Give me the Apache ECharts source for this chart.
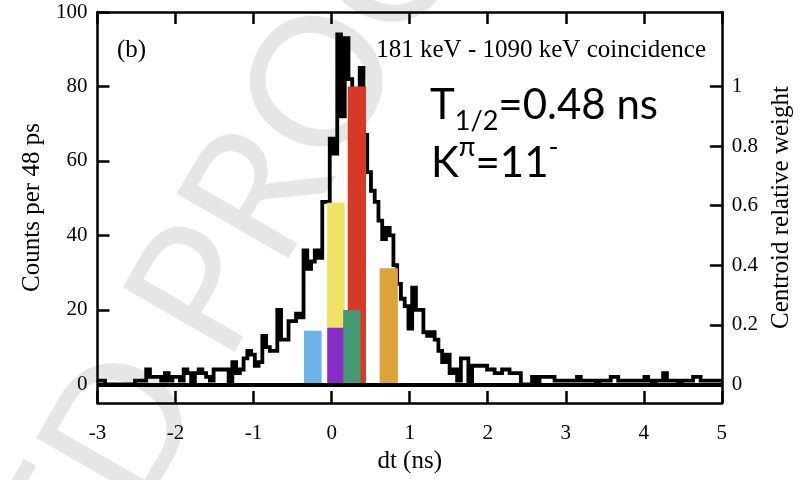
<!DOCTYPE html>
<html>
<head>
<meta charset="utf-8">
<script src="https://cdn.jsdelivr.net/npm/echarts@6/dist/echarts.min.js"></script>
<style>
  html, body { margin: 0; padding: 0; background: #ffffff; }
  #chart { width: 802px; height: 480px; }
</style>
</head>
<body>
<div id="chart"></div>
<script>
// Time-difference histogram, 48 ps bins starting at dt = -3 ns
const binStart = -3.0;
const binWidth = 0.048;
const counts = [
  1, 1, 0, 0, 0, 0, 0, 0, 0, 0,
  1, 1, 1, 4, 2, 2, 2, 1, 3, 1,
  2, 2, 1, 4, 3, 0, 3, 4, 3, 2,
  1, 4, 4, 4, 4, 0, 6, 3, 4, 7,
  9, 8, 5, 6, 13, 10, 9, 9, 20, 12,
  12, 17, 17, 19, 18, 36, 31, 33, 36, 34,
  49, 49, 66, 62, 94, 72, 93, 82, 70, 75,
  85, 67, 57, 52, 49, 44, 39, 42, 40, 32,
  27, 23, 21, 15, 26, 20, 20, 14, 13, 14,
  12, 9, 6, 8, 3, 4, 1, 7, 7, 0,
  5, 5, 5, 5, 4, 4, 3, 3, 4, 4,
  3, 3, 3, 0, 0, 0, 2, 0, 2, 2,
  2, 2, 1, 1, 1, 1, 1, 1, 2, 1,
  1, 1, 1, 0, 1, 1, 1, 2, 2, 1,
  1, 1, 1, 1, 1, 1, 2, 1, 0, 1,
  1, 3, 1, 1, 1, 0, 1, 1, 1, 2,
  2, 1, 1, 1, 1, 1, 1
];

// Axis ticks
const dtTicks = [-3, -2, -1, 0, 1, 2, 3, 4, 5];
const countTicks = [0, 20, 40, 60, 80, 100];
const weightTicks = [0, 0.2, 0.4, 0.6, 0.8, 1];

// Centroid components: position (ns), width (ns), relative weight, drawn in this order
const centroidPos = [-0.241, 0.055, 0.055, 0.323, 0.259, 0.732];
const centroidWidth = [0.226, 0.225, 0.222, 0.234, 0.222, 0.234];
const centroidWeight = [0.18, 0.61, 0.19, 1.0, 0.25, 0.39];
const centroidColor = ['#6cb4e4', '#f0e262', '#8a2bc9', '#d63a26', '#429a72', '#dea23a'];

const serif = '"Liberation Serif", "Times New Roman", serif';
const noteColor = '#4a6a92';
const markColor = '#e6e6e6';
const markFont = '180px Lato, "Open Sans", sans-serif';

const stepData = counts.map((c, i) => [binStart + i * binWidth, c]);
stepData.push([binStart + counts.length * binWidth, counts[counts.length - 1]]);

const centroidData = centroidPos.map((p, i) => [p, centroidWidth[i], centroidWeight[i]]);

const chart = echarts.init(document.getElementById('chart'), null, { renderer: 'canvas' });

const axisLine = { show: true, onZero: false, lineStyle: { color: '#000', width: 2.5 } };
const tickStyle = { color: '#000', width: 2.5 };

chart.setOption({
  animation: false,
  backgroundColor: '#ffffff',
  grid: { left: 97.5, right: 79.5, top: 12, bottom: 77, containLabel: false },
  xAxis: [
    {
      type: 'value', position: 'bottom', min: dtTicks[0], max: dtTicks[dtTicks.length - 1], interval: 1,
      axisLine: axisLine,
      axisTick: { show: true, inside: true, length: 12, lineStyle: tickStyle },
      axisLabel: { show: true, color: '#000', fontFamily: serif, fontSize: 21, margin: 20 },
      splitLine: { show: false },
      name: 'dt (ns)', nameLocation: 'middle', nameGap: 46,
      nameTextStyle: { color: '#000', fontFamily: serif, fontSize: 25 }
    },
    {
      type: 'value', position: 'top', min: dtTicks[0], max: dtTicks[dtTicks.length - 1], interval: 1,
      axisLine: axisLine,
      axisTick: { show: true, inside: true, length: 12, lineStyle: tickStyle },
      axisLabel: { show: false },
      splitLine: { show: false }
    }
  ],
  yAxis: [
    {
      type: 'value', position: 'left', min: -5, max: 100,
      axisLine: axisLine,
      axisTick: { show: true, inside: true, length: 12, lineStyle: tickStyle, customValues: countTicks },
      axisLabel: { show: true, color: '#000', fontFamily: serif, fontSize: 21, margin: 10, customValues: countTicks },
      splitLine: { show: false },
      name: 'Counts per 48 ps', nameLocation: 'middle', nameGap: 52, nameRotate: 90,
      nameTextStyle: { color: '#000', fontFamily: serif, fontSize: 25 }
    },
    {
      type: 'value', position: 'right', min: -0.0625, max: 1.25,
      axisLine: axisLine,
      axisTick: { show: true, inside: true, length: 12, lineStyle: tickStyle, customValues: weightTicks },
      axisLabel: { show: true, color: '#000', fontFamily: serif, fontSize: 21, margin: 10, customValues: weightTicks },
      splitLine: { show: false },
      name: 'Centroid relative weight', nameLocation: 'middle', nameGap: 47, nameRotate: 90,
      nameTextStyle: { color: '#000', fontFamily: serif, fontSize: 25 }
    }
  ],
  series: [
    {
      name: 'counts',
      type: 'line',
      xAxisIndex: 0, yAxisIndex: 0,
      step: 'end',
      data: stepData,
      symbol: 'none',
      clip: true,
      z: 2,
      lineStyle: { color: '#000', width: 3.8, join: 'miter', cap: 'butt' },
      markLine: {
        silent: true,
        symbol: ['none', 'none'],
        label: { show: false },
        lineStyle: { color: '#000', width: 3.8, type: 'solid' },
        data: [{ yAxis: 0 }]
      }
    },
    {
      name: 'centroids',
      type: 'custom',
      xAxisIndex: 0, yAxisIndex: 1,
      z: 3,
      data: centroidData,
      renderItem: function (params, api) {
        const c = api.value(0), w = api.value(1), h = api.value(2);
        const p0 = api.coord([c - w / 2, h]);
        const p1 = api.coord([c + w / 2, 0]);
        return {
          type: 'rect',
          shape: { x: p0[0], y: p0[1], width: p1[0] - p0[0], height: p1[1] - p0[1] },
          style: { fill: centroidColor[params.dataIndex] }
        };
      }
    }
  ],
  graphic: [
    {
      type: 'text', z: -10, x: 176, y: 337, rotation: Math.PI / 3, silent: true,
      style: { text: 'PROOF', fill: markColor, font: markFont, textAlign: 'left', textVerticalAlign: 'middle' }
    },
    {
      type: 'text', z: -10, x: 158, y: 369, rotation: Math.PI / 3, silent: true,
      style: { text: 'ACCEPTED', fill: markColor, font: markFont, textAlign: 'right', textVerticalAlign: 'middle' }
    },
    {
      type: 'text', z: 10, x: 117, y: 50,
      style: { text: '(b)', fill: '#000', font: '25px ' + serif, textAlign: 'left', textVerticalAlign: 'middle' }
    },
    {
      type: 'text', z: 10, x: 706, y: 50,
      style: { text: '181 keV - 1090 keV coincidence', fill: '#000', font: '25px ' + serif, textAlign: 'right', textVerticalAlign: 'middle' }
    },
    {
      type: 'text', z: 10, x: 430, y: 84,
      style: {
        text: '{m|T}{s|1/2}{m|=0.48 ns}',
        textAlign: 'left', textVerticalAlign: 'top',
        rich: {
          m: { fontFamily: 'Lato', fontSize: 42, lineHeight: 42, color: noteColor, verticalAlign: 'top' },
          s: { fontFamily: 'Lato', fontSize: 27, lineHeight: 27, color: noteColor, verticalAlign: 'top', padding: [24, 0, 0, 0] }
        }
      }
    },
    {
      type: 'text', z: 10, x: 431, y: 134,
      style: {
        text: '{m|K}{p|π}{m|=11}{p|-}',
        textAlign: 'left', textVerticalAlign: 'top',
        rich: {
          m: { fontFamily: 'Lato', fontSize: 42, lineHeight: 42, color: noteColor, verticalAlign: 'top', padding: [8, 0, 0, 0] },
          p: { fontFamily: 'Lato', fontSize: 27, lineHeight: 27, color: noteColor, verticalAlign: 'top' }
        }
      }
    }
  ]
});
</script>
</body>
</html>
